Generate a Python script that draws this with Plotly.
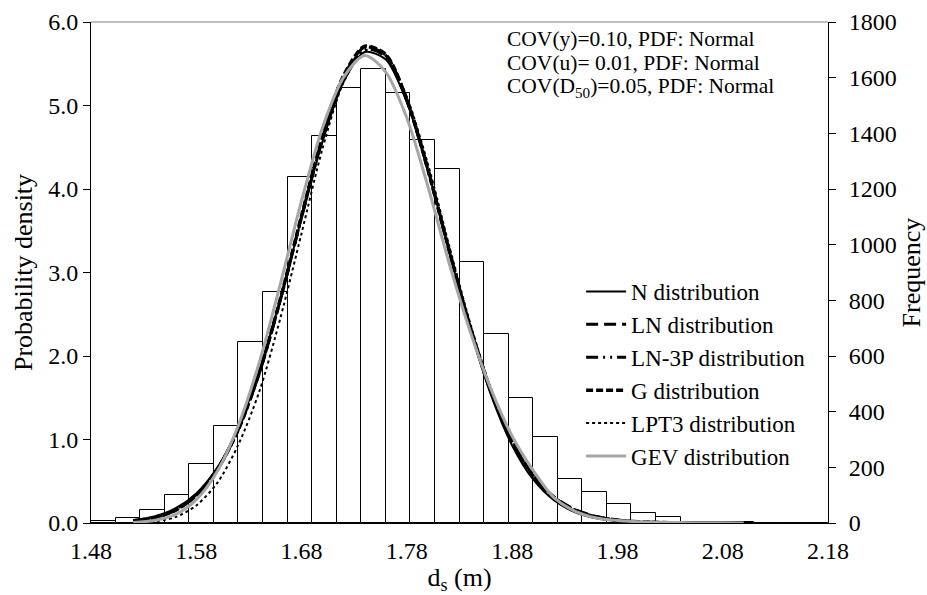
import plotly.graph_objects as go

# ---------------- data ----------------
bin_start = 1.48
bin_end = 2.18
n_bins = 30
freq = [8, 17, 46, 100, 211, 349, 650, 829, 1242, 1390, 1562, 1630, 1544, 1375,
        1271, 937, 680, 448, 308, 157, 110, 68, 35, 20, 5, 3, 2, 1, 1, 1]

x_curve = [1.52, 1.54, 1.56, 1.58, 1.60, 1.62, 1.64, 1.66, 1.68, 1.70, 1.72, 1.74,
           1.76, 1.78, 1.80, 1.82, 1.84, 1.86, 1.88, 1.90, 1.92, 1.94, 1.96, 1.98,
           2.00, 2.02, 2.04, 2.06]
x_gev = x_curve + [2.08, 2.10]

n_pdf = [0.033, 0.079, 0.174, 0.354, 0.663, 1.146, 1.828, 2.690, 3.652, 4.574, 5.288, 5.640,
         5.550, 5.039, 4.221, 3.263, 2.327, 1.531, 0.929, 0.521, 0.269, 0.128, 0.056, 0.023,
         0.009, 0.003, 0.001, 0.0]
ln_pdf = [0.02, 0.06, 0.15, 0.33, 0.64, 1.12, 1.80, 2.68, 3.67, 4.62, 5.35, 5.70,
          5.60, 5.07, 4.24, 3.28, 2.36, 1.58, 0.98, 0.57, 0.31, 0.16, 0.078, 0.036,
          0.016, 0.007, 0.003, 0.001]
ln3p_pdf = [0.03, 0.07, 0.16, 0.34, 0.65, 1.13, 1.81, 2.68, 3.66, 4.60, 5.32, 5.68,
            5.58, 5.06, 4.23, 3.27, 2.35, 1.56, 0.96, 0.55, 0.29, 0.14, 0.065, 0.028,
            0.011, 0.004, 0.001, 0.0]
g_pdf = [0.02, 0.06, 0.15, 0.33, 0.64, 1.12, 1.81, 2.69, 3.68, 4.63, 5.36, 5.71,
         5.61, 5.07, 4.23, 3.27, 2.35, 1.57, 0.97, 0.56, 0.30, 0.15, 0.072, 0.033,
         0.014, 0.006, 0.002, 0.0]
lpt3_pdf = [0.005, 0.02, 0.07, 0.21, 0.48, 0.94, 1.58, 2.46, 3.47, 4.49, 5.28, 5.66,
            5.60, 5.10, 4.30, 3.33, 2.40, 1.60, 0.99, 0.57, 0.31, 0.16, 0.08, 0.035,
            0.015, 0.006, 0.002, 0.0]
gev_pdf = [0.005, 0.03, 0.10, 0.28, 0.62, 1.17, 1.93, 2.87, 3.86, 4.74, 5.34, 5.60,
           5.40, 4.85, 4.03, 3.12, 2.30, 1.60, 1.04, 0.63, 0.30, 0.14, 0.06, 0.03,
           0.015, 0.008, 0.005, 0.003, 0.002, 0.001]

annot_lines = ["COV(y)=0.10, PDF: Normal",
               "COV(u)= 0.01, PDF: Normal",
               "COV(D<sub>50</sub>)=0.05, PDF: Normal"]

x_ticks = [1.48, 1.58, 1.68, 1.78, 1.88, 1.98, 2.08, 2.18]

# ---------------- figure ----------------
FONT = "Liberation Serif"
FS = 22
TICK_FS = 24
bw = (bin_end - bin_start) / n_bins
centers = [bin_start + (i + 0.5) * bw for i in range(n_bins)]

fig = go.Figure()
fig.add_trace(go.Bar(x=centers, y=freq, width=bw, yaxis="y",
                     marker=dict(color="white", line=dict(color="black", width=1)),
                     showlegend=False, hoverinfo="skip"))

curves = [
    ("N distribution", x_curve, n_pdf, dict(color="black", width=2, dash="solid")),
    ("LN distribution", x_curve, ln_pdf, dict(color="black", width=3, dash="12px,6px")),
    ("LN-3P distribution", x_curve, ln3p_pdf, dict(color="black", width=3, dash="12px,5px,2px,5px,2px,5px")),
    ("G distribution", x_curve, g_pdf, dict(color="black", width=3.5, dash="7px,3px")),
    ("LPT3 distribution", x_curve, lpt3_pdf, dict(color="black", width=2, dash="dot")),
    ("GEV distribution", x_gev, gev_pdf, dict(color="#a6a6a6", width=3, dash="solid")),
]
for name, xs, ys, ln in curves:
    fig.add_trace(go.Scatter(x=xs, y=ys, mode="lines", name=name, yaxis="y2",
                             line=dict(shape="spline", smoothing=0.8, **ln)))

for i, t in enumerate(annot_lines):
    fig.add_annotation(x=0.562, y=0.966 - i * 0.048, xref="paper", yref="paper",
                       text=t, showarrow=False, xanchor="left", yanchor="middle",
                       font=dict(family=FONT, size=21.5, color="black"))

# top border of plot area
fig.add_shape(type="line", xref="paper", yref="paper", x0=0, x1=1, y0=1, y1=1,
              line=dict(color="#808080", width=1))

fig.update_layout(
    width=927, height=595,
    margin=dict(l=91, r=99, t=22, b=72, autoexpand=False),
    paper_bgcolor="white", plot_bgcolor="white",
    font=dict(family=FONT, size=FS, color="black"),
    bargap=0,
    xaxis=dict(range=[bin_start, bin_end], tickvals=x_ticks, tickformat=".2f",
               showgrid=False, zeroline=False, showline=True, linecolor="black",
               linewidth=1, ticks="", ticklabelstandoff=6, tickfont=dict(size=TICK_FS),
               automargin=False, title=dict(text="d<sub>s</sub> (m)", standoff=2)),
    yaxis=dict(range=[0, 1800], dtick=200, side="right", showgrid=False,
               zeroline=False, showline=True, linecolor="black", linewidth=1,
               ticks="outside", ticklen=7, tickcolor="black", tickfont=dict(size=TICK_FS),
               ticklabelstandoff=8, automargin=False,
               title=dict(text="Frequency", standoff=3)),
    yaxis2=dict(range=[0, 6], dtick=1, tickformat=".1f", side="left",
                overlaying="y", showgrid=False, zeroline=False, showline=True,
                linecolor="black", linewidth=1, ticks="outside", ticklen=7,
                tickcolor="black", tickfont=dict(size=TICK_FS), automargin=False,
                title=dict(text="Probability density", standoff=8)),
    legend=dict(x=0.665, y=0.505, xanchor="left", yanchor="top",
                bgcolor="rgba(0,0,0,0)", itemwidth=40, tracegroupgap=0,
                font=dict(family=FONT, size=23, color="black")),
    showlegend=True,
)

fig.write_html("out.html")
